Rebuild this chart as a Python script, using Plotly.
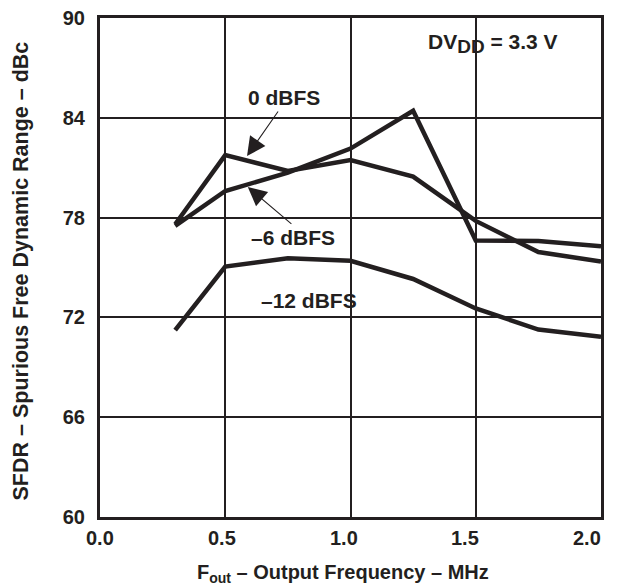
import plotly.graph_objects as go

freq = [0.3, 0.5, 0.75, 1.0, 1.25, 1.5, 1.75, 2.0]
sfdr_0dbfs = [77.6, 81.76, 80.8, 81.46, 80.46, 77.8, 75.93, 75.36]
sfdr_m6dbfs = [77.5, 79.6, 80.7, 82.15, 84.42, 76.63, 76.6, 76.27]
sfdr_m12dbfs = [71.23, 75.06, 75.56, 75.4, 74.31, 72.54, 71.27, 70.83]

x_ticks = [0.0, 0.5, 1.0, 1.5, 2.0]
x_tick_labels = ["0.0", "0.5", "1.0", "1.5", "2.0"]
y_ticks = [60, 66, 72, 78, 84, 90]

FONT = "Liberation Sans"
INK = "#231f20"
BOLD = dict(family=FONT, size=20, color=INK, weight="bold")
BOLD21 = dict(BOLD, size=21)

fig = go.Figure()
for name, vals in [("0 dBFS", sfdr_0dbfs), ("–6 dBFS", sfdr_m6dbfs), ("–12 dBFS", sfdr_m12dbfs)]:
    fig.add_trace(go.Scatter(x=freq, y=vals, mode="lines", name=name,
                             line=dict(color=INK, width=4.5), showlegend=False))

annots = []
# curve labels
for txt, x, y in [("0 dBFS", 0.735, 85.25), ("–6 dBFS", 0.77, 76.83),
                  ("–12 dBFS", 0.836, 73.04),
                  ("DV<sub><span style='font-size:19px'>DD</span></sub> = 3.3 V", 1.569, 88.45)]:
    annots.append(dict(x=x, y=y, xref="x", yref="y", text=txt, showarrow=False, font=BOLD21))
# arrows
for (tx, ty), (hx, hy) in [((0.715, 84.47), (0.587, 81.70)),
                           ((0.77, 77.55), (0.59, 79.84))]:
    annots.append(dict(x=hx, y=hy, ax=tx, ay=ty, xref="x", yref="y", axref="x", ayref="y",
                       text="", showarrow=True, arrowhead=2, arrowsize=3.4, arrowwidth=1.1,
                       arrowcolor=INK, standoff=0, startstandoff=0))
# x tick labels (slightly compressed spacing as in the reference)
for v, lab in zip(x_ticks, x_tick_labels):
    annots.append(dict(x=v, y=0, xref="x", yref="paper", text=lab, showarrow=False,
                       yanchor="top", yshift=-8, xshift=-7 * v, font=BOLD))
# axis titles
annots.append(dict(x=0.5, y=0, xref="paper", yref="paper", yanchor="middle",
                   text="F<sub>out</sub> – Output Frequency – MHz", showarrow=False,
                   xshift=-8, yshift=-56, font=BOLD))
annots.append(dict(x=0, y=0.5, xref="paper", yref="paper", xanchor="center",
                   text="SFDR – Spurious Free Dynamic Range – dBc", showarrow=False,
                   textangle=-90, xshift=-80, yshift=-4, font=dict(BOLD, size=21.5)))

# page has an 8px body margin; size/margins chosen so the plot box lands at
# x 100..601, y 18..517 in the 617x586 window
fig.update_layout(
    width=609, height=578,
    margin=dict(l=92, r=16, t=10, b=69),
    paper_bgcolor="white", plot_bgcolor="white",
    font=BOLD,
    annotations=annots,
    xaxis=dict(range=[0, 2.0], tickvals=x_ticks, showticklabels=False,
               showgrid=True, gridcolor=INK, gridwidth=2,
               showline=True, linecolor=INK, linewidth=3, mirror=True,
               zeroline=False, ticks="", automargin=False),
    yaxis=dict(range=[60, 90], tickvals=y_ticks,
               showgrid=True, gridcolor=INK, gridwidth=2,
               showline=True, linecolor=INK, linewidth=3, mirror=True,
               zeroline=False, ticks="", ticklabelstandoff=8, automargin=False,
               ticklabeloverflow="allow", tickfont=BOLD),
)

fig.write_html("out.html")
